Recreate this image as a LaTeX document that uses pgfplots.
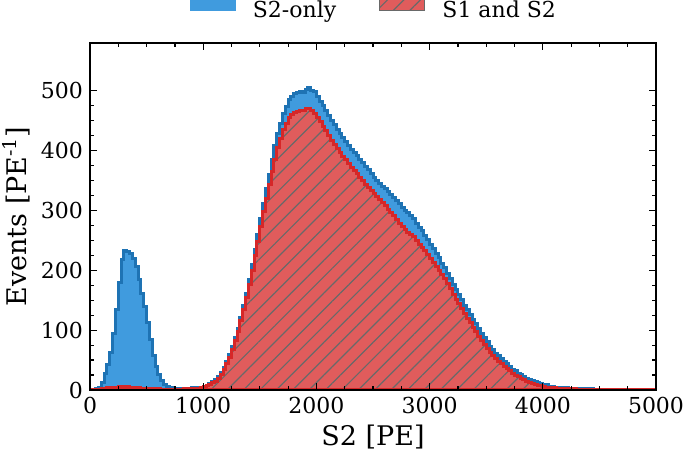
\documentclass[border=0pt]{standalone}
\usepackage{pgfplots}
\pgfplotsset{compat=1.18}
\usepackage{pgfplotstable}
\usepackage{fontspec}
\setmainfont{DejaVu Serif}
\usetikzlibrary{patterns.meta}
\definecolor{bluefill}{RGB}{64,155,222}
\definecolor{blueedge}{RGB}{30,115,180}
\definecolor{redfill}{RGB}{224,92,92}
\definecolor{rededge}{RGB}{214,39,40}
\definecolor{hatchgray}{RGB}{105,105,105}

\pgfplotstableread[row sep=\\]{
x y\\
0 0\\ 25 0.5\\ 50 2\\ 75 5\\ 100 13\\ 125 27\\ 150 43\\ 175 62\\ 200 95\\ 225 135\\
250 180\\ 275 218\\ 300 233\\ 325 232\\ 350 228\\ 375 220\\ 400 206\\ 425 185\\ 450 162\\ 475 140\\
500 113\\ 525 85\\ 550 58\\ 575 40\\ 600 26\\ 625 16\\ 650 9\\ 675 5.5\\ 700 4\\ 725 3\\
750 2.5\\ 775 2.5\\ 800 2.5\\ 825 3\\ 850 3\\ 875 3\\ 900 3.5\\ 925 3.5\\ 950 4\\ 975 5\\
1000 6.5\\ 1025 8\\ 1050 10.5\\ 1075 13.5\\ 1100 17\\ 1125 22\\ 1150 28.5\\ 1175 38\\ 1200 47\\ 1225 59\\
1250 72\\ 1275 87.5\\ 1300 103\\ 1325 122\\ 1350 140.5\\ 1375 162\\ 1400 185\\ 1425 209\\ 1450 234\\ 1475 260\\
1500 286\\ 1525 312\\ 1550 336\\ 1575 361\\ 1600 385\\ 1625 408\\ 1650 428\\ 1675 446\\ 1700 462\\ 1725 474\\
1750 485\\ 1775 491\\ 1800 496\\ 1825 497\\ 1850 499\\ 1875 498\\ 1900 502\\ 1925 506\\ 1950 501\\ 1975 499\\
2000 491\\ 2025 483\\ 2050 475\\ 2075 468\\ 2100 459\\ 2125 451\\ 2150 443\\ 2175 435\\ 2200 429\\ 2225 422\\
2250 416\\ 2275 409\\ 2300 402\\ 2325 397\\ 2350 392\\ 2375 386\\ 2400 380\\ 2425 374\\ 2450 368\\ 2475 362\\
2500 356\\ 2525 350\\ 2550 345\\ 2575 340\\ 2600 336\\ 2625 331\\ 2650 326\\ 2675 322\\ 2700 317\\ 2725 311\\
2750 305\\ 2775 300\\ 2800 296\\ 2825 291\\ 2850 286\\ 2875 279\\ 2900 272\\ 2925 266\\ 2950 259\\ 2975 252\\
3000 244\\ 3025 236\\ 3050 228\\ 3075 221\\ 3100 211\\ 3125 204\\ 3150 195\\ 3175 186\\ 3200 176\\ 3225 168\\
3250 159\\ 3275 151\\ 3300 142\\ 3325 134\\ 3350 126\\ 3375 118\\ 3400 111\\ 3425 102\\ 3450 95\\ 3475 87\\
3500 81\\ 3525 73\\ 3550 67\\ 3575 61\\ 3600 57\\ 3625 52\\ 3650 48\\ 3675 44\\ 3700 40\\ 3725 35\\
3750 32\\ 3775 28\\ 3800 26\\ 3825 22\\ 3850 20\\ 3875 17.5\\ 3900 16\\ 3925 14\\ 3950 12\\ 3975 10.5\\
4000 10\\ 4025 8.5\\ 4050 6.5\\ 4075 5.5\\ 4100 5\\ 4125 4.5\\ 4150 4\\ 4175 3.8\\ 4200 3.5\\ 4225 3.2\\
4250 3\\ 4275 2.7\\ 4300 2.5\\ 4325 2.3\\ 4350 2.1\\ 4375 2\\ 4400 1.9\\ 4425 1.7\\ 4450 1.5\\ 4475 1.4\\
4500 1.2\\ 4525 1.1\\ 4550 1\\ 4575 1\\ 4600 0.9\\ 4625 0.8\\ 4650 0.8\\ 4675 0.7\\ 4700 0.7\\ 4725 0.6\\
4750 0.6\\ 4775 0.5\\ 4800 0.5\\ 4825 0.5\\ 4850 0.4\\ 4875 0.4\\ 4900 0.4\\ 4925 0.3\\ 4950 0.3\\ 4975 0.3\\
5000 0.3\\
}\bluedata

\pgfplotstableread[row sep=\\]{
x y\\
0 0\\ 25 0.3\\ 50 1\\ 75 1.5\\ 100 2\\ 125 2.5\\ 150 3.5\\ 175 4\\ 200 4.5\\ 225 5\\
250 5.5\\ 275 6\\ 300 6\\ 325 5.5\\ 350 5\\ 375 4.5\\ 400 4\\ 425 3.5\\ 450 3\\ 475 3\\
500 2.5\\ 525 2.5\\ 550 2\\ 575 2\\ 600 2\\ 625 1.5\\ 650 1.5\\ 675 1.5\\ 700 1.5\\ 725 1.5\\
750 1.5\\ 775 1.5\\ 800 1.5\\ 825 2\\ 850 2\\ 875 2\\ 900 2\\ 925 2.5\\ 950 3\\ 975 4\\
1000 5.5\\ 1025 7\\ 1050 9\\ 1075 12\\ 1100 15\\ 1125 20\\ 1150 26\\ 1175 35\\ 1200 44\\ 1225 55\\
1250 68\\ 1275 83\\ 1300 98\\ 1325 116\\ 1350 134\\ 1375 155\\ 1400 177\\ 1425 200\\ 1450 224\\ 1475 249\\
1500 273\\ 1525 298\\ 1550 320\\ 1575 343\\ 1600 365\\ 1625 386\\ 1650 405\\ 1675 421\\ 1700 435\\ 1725 446\\
1750 455\\ 1775 460\\ 1800 464\\ 1825 466\\ 1850 467\\ 1875 468\\ 1900 470\\ 1925 471\\ 1950 468\\ 1975 462\\
2000 455\\ 2025 448\\ 2050 440\\ 2075 433\\ 2100 425\\ 2125 417\\ 2150 410\\ 2175 403\\ 2200 397\\ 2225 391\\
2250 385\\ 2275 378\\ 2300 372\\ 2325 367\\ 2350 362\\ 2375 356\\ 2400 350\\ 2425 344\\ 2450 338\\ 2475 333\\
2500 328\\ 2525 323\\ 2550 318\\ 2575 313\\ 2600 308\\ 2625 302\\ 2650 296\\ 2675 291\\ 2700 285\\ 2725 279\\
2750 273\\ 2775 268\\ 2800 264\\ 2825 260\\ 2850 256\\ 2875 250\\ 2900 244\\ 2925 239\\ 2950 233\\ 2975 227\\
3000 220\\ 3025 213\\ 3050 206\\ 3075 200\\ 3100 193\\ 3125 186\\ 3150 178\\ 3175 169\\ 3200 160\\ 3225 152\\
3250 144\\ 3275 136\\ 3300 128\\ 3325 120\\ 3350 113\\ 3375 105\\ 3400 98\\ 3425 90\\ 3450 83\\ 3475 76\\
3500 70\\ 3525 63\\ 3550 57\\ 3575 52\\ 3600 48\\ 3625 44\\ 3650 40\\ 3675 36\\ 3700 32\\ 3725 28\\
3750 25\\ 3775 22\\ 3800 20\\ 3825 17\\ 3850 15\\ 3875 13\\ 3900 11\\ 3925 9.5\\ 3950 8\\ 3975 7\\
4000 6\\ 4025 5\\ 4050 4.5\\ 4075 4\\ 4100 3.5\\ 4125 3.2\\ 4150 3\\ 4175 2.8\\ 4200 2.5\\ 4225 2.2\\
4250 2\\ 4275 1.8\\ 4300 1.5\\ 4325 1.4\\ 4350 1.2\\ 4375 1.1\\ 4400 1\\ 4425 1\\ 4450 0.9\\ 4475 0.8\\
4500 0.7\\ 4525 0.7\\ 4550 0.6\\ 4575 0.6\\ 4600 0.5\\ 4625 0.5\\ 4650 0.5\\ 4675 0.4\\ 4700 0.4\\ 4725 0.4\\
4750 0.4\\ 4775 0.3\\ 4800 0.3\\ 4825 0.3\\ 4850 0.3\\ 4875 0.3\\ 4900 0.2\\ 4925 0.2\\ 4950 0.2\\ 4975 0.2\\
5000 0.2\\
}\reddata

\begin{document}
\begin{tikzpicture}
\begin{axis}[
  at={(0,0)}, anchor=south west,
  scale only axis, width=283pt, height=173.5pt,
  xmin=0, xmax=5000, ymin=0, ymax=580,
  xtick={0,1000,2000,3000,4000,5000},
  ytick={0,100,200,300,400,500},
  minor x tick num=3, minor y tick num=3,
  tick align=inside, xtick pos=both, ytick pos=both,
  major tick length=3.5pt, minor tick length=2pt,
  every tick/.style={black, line width=0.6pt},
  axis line style={line width=0.75pt},
  axis on top,
  /pgf/number format/assume math mode=true,
  /pgf/number format/1000 sep={},
  tick label style={font=\fontsize{11}{13}\selectfont},
  xlabel={S2 [PE]},
  ylabel={Events [PE\textsuperscript{-1}]},
  label style={font=\fontsize{13.5}{16}\selectfont},
  xlabel style={at={(axis description cs:0.5,0)}, anchor=center, yshift=-23.5pt},
  ylabel style={at={(axis description cs:0,0.5)}, anchor=center, yshift=37pt},
  legend columns=2,
  legend cell align=left,
  legend style={draw=none, fill=none, inner sep=0pt,
    at={(axis description cs:0.5,1)}, anchor=south, yshift=11pt,
    font=\fontsize{11}{13}\selectfont,
    nodes={inner sep=0pt},
    /tikz/every odd column/.append style={column sep=8.5pt},
    /tikz/every even column/.append style={column sep=21.5pt}},
]
\addplot[const plot, fill=bluefill, draw=blueedge, line width=1.5pt, forget plot]
  table[x=x, y=y] {\bluedata} \closedcycle;
\addplot[const plot, preaction={fill=redfill},
  pattern={Lines[angle=45,distance=5.8pt,line width=0.6pt]}, pattern color=hatchgray,
  draw=rededge, line width=1.5pt, forget plot]
  table[x=x, y=y] {\reddata} \closedcycle;
\addlegendimage{legend image code/.code={\fill[bluefill] (0pt,0pt) rectangle (22.5pt,8pt);}}
\addlegendentry{S2-only}
\addlegendimage{legend image code/.code={\draw[hatchgray, line width=0.6pt, preaction={fill=redfill}, pattern={Lines[angle=45,distance=5.8pt,line width=0.6pt]}, pattern color=hatchgray] (0pt,0pt) rectangle (22.5pt,8pt);}}
\addlegendentry{S1 and S2}
\end{axis}
\pgfresetboundingbox
\useasboundingbox (-45pt,-31.5pt) rectangle (297.5pt,195pt);
\end{tikzpicture}
\end{document}
